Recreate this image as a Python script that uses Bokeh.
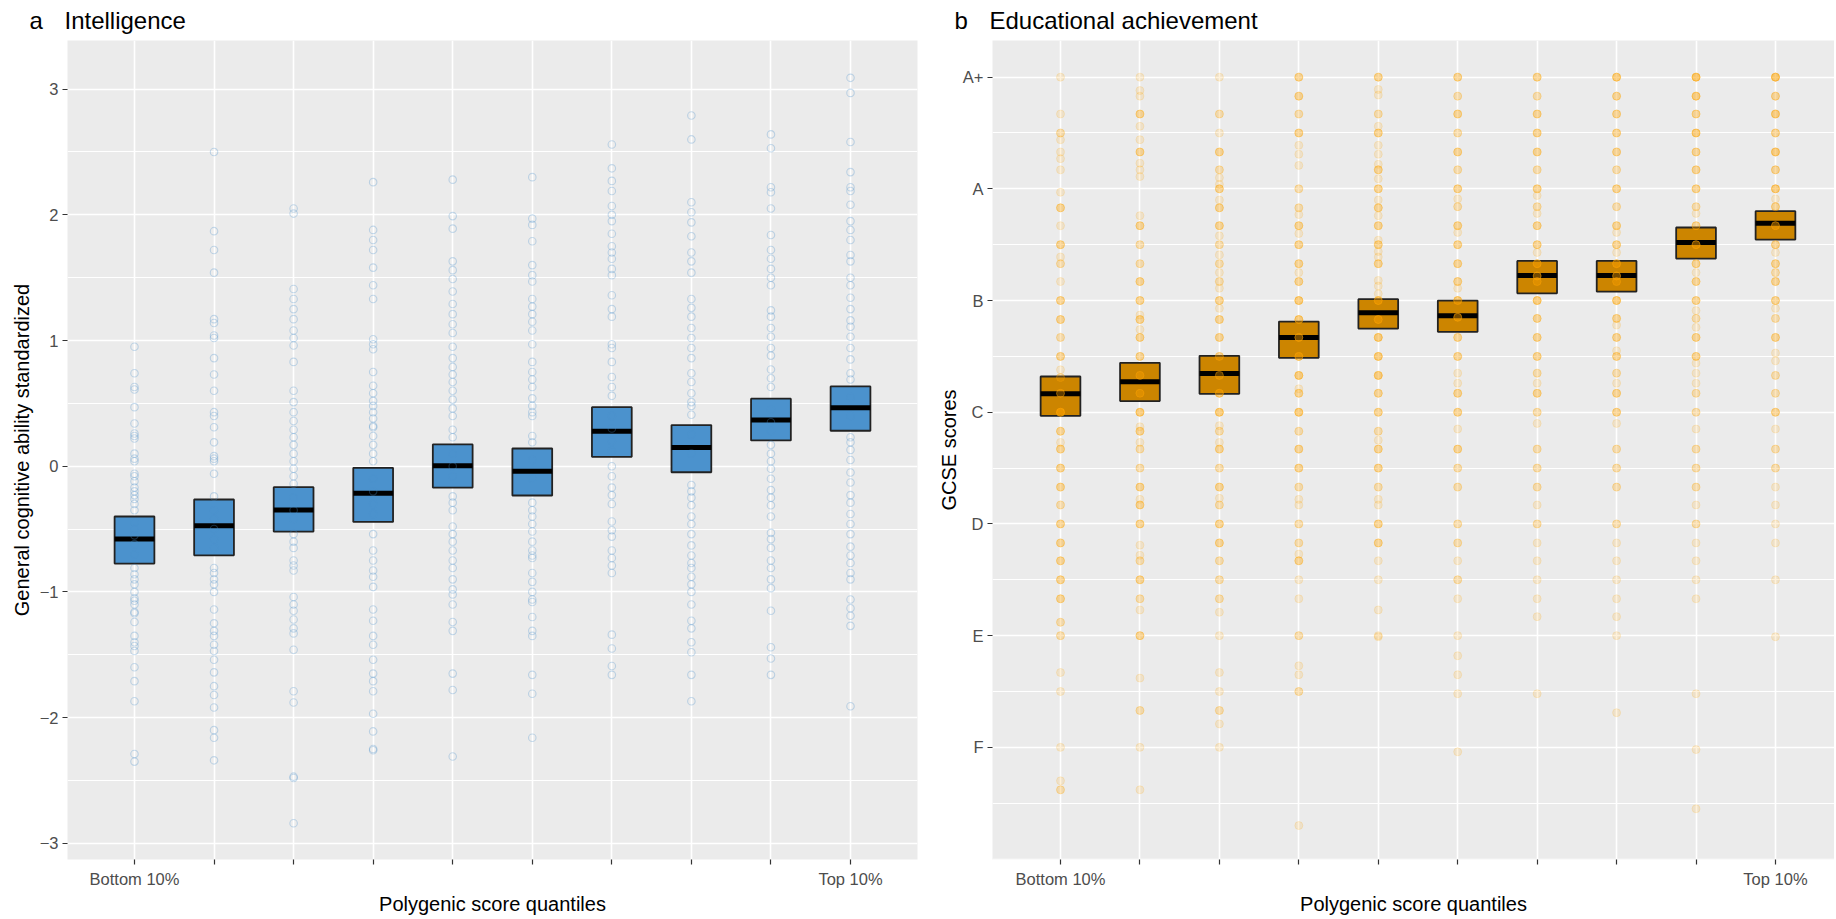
import numpy as np
from bokeh.plotting import figure
from bokeh.models import FixedTicker, Range1d, Grid
from bokeh.layouts import row
from bokeh.embed import file_html
from bokeh.resources import INLINE

# ---------------- data ----------------
quantiles = [1, 2, 3, 4, 5, 6, 7, 8, 9, 10]
x_tick_labels = {1: "Bottom 10%", 10: "Top 10%"}

iq_ticks = [-3, -2, -1, 0, 1, 2, 3]
gcse_ticks = [1, 2, 3, 4, 5, 6, 7]
gcse_tick_labels = ["F", "E", "D", "C", "B", "A", "A+"]

# Intelligence: crossbar (lower / middle / upper) per quantile
iq_lower = [-0.775, -0.709, -0.52, -0.443, -0.17, -0.233, 0.075, -0.048, 0.205, 0.282]
iq_mid = [-0.58, -0.473, -0.348, -0.215, 0.003, -0.04, 0.279, 0.149, 0.367, 0.465]
iq_upper = [-0.40, -0.265, -0.167, -0.013, 0.173, 0.141, 0.47, 0.327, 0.537, 0.635]

# Educational achievement: crossbar per quantile (F=1 ... A+=7)
gcse_lower = [3.968, 4.10, 4.165, 4.487, 4.749, 4.72, 5.065, 5.08, 5.376, 5.546]
gcse_mid = [4.165, 4.272, 4.346, 4.669, 4.89, 4.863, 5.224, 5.224, 5.519, 5.692]
gcse_upper = [4.32, 4.442, 4.505, 4.812, 5.012, 5.0, 5.355, 5.355, 5.654, 5.80]

# Intelligence: individual points per quantile
iq_q1 = [0.95, 0.74, 0.63, 0.61, 0.47, 0.34, 0.26, 0.24, 0.22, 0.10, 0.06, 0.04, -0.06, -0.08, -0.12, -0.17,
         -0.20, -0.23, -0.26, -0.30, -0.35, -0.45, -0.50, -0.55, -0.62, -0.70, -0.81, -0.86, -0.90, -0.94,
         -1.00, -1.05, -1.07, -1.10, -1.16, -1.17, -1.24, -1.35, -1.40, -1.43, -1.47, -1.60, -1.71, -1.87,
         -2.29, -2.35]
iq_q2 = [2.50, 1.87, 1.72, 1.54, 1.17, 1.14, 1.04, 1.02, 0.86, 0.73, 0.60, 0.43, 0.40, 0.31, 0.19, 0.08,
         0.06, 0.04, -0.06, -0.24, -0.35, -0.42, -0.50, -0.58, -0.65, -0.81, -0.85, -0.90, -0.94, -1.00,
         -1.14, -1.25, -1.31, -1.35, -1.42, -1.47, -1.54, -1.64, -1.75, -1.82, -1.92, -2.10, -2.16, -2.34]
iq_q3 = [2.05, 2.01, 1.41, 1.33, 1.25, 1.17, 1.08, 1.02, 0.96, 0.83, 0.60, 0.51, 0.43, 0.36, 0.29, 0.23,
         0.17, 0.10, 0.04, -0.02, -0.08, -0.14, -0.25, -0.35, -0.42, -0.54, -0.60, -0.65, -0.75, -0.79,
         -0.83, -1.04, -1.10, -1.15, -1.22, -1.29, -1.33, -1.46, -1.79, -1.88, -2.47, -2.48, -2.84]
iq_q4 = [2.26, 1.88, 1.80, 1.72, 1.58, 1.44, 1.33, 1.01, 0.97, 0.93, 0.75, 0.64, 0.58, 0.52, 0.48, 0.43,
         0.38, 0.32, 0.31, 0.24, 0.17, 0.10, 0.04, -0.10, -0.20, -0.30, -0.38, -0.54, -0.67, -0.75, -0.83,
         -0.88, -0.96, -1.14, -1.23, -1.35, -1.42, -1.54, -1.65, -1.71, -1.79, -1.97, -2.11, -2.25, -2.26]
iq_q5 = [2.28, 1.99, 1.89, 1.63, 1.56, 1.49, 1.39, 1.29, 1.21, 1.13, 1.06, 0.95, 0.86, 0.79, 0.73, 0.67,
         0.60, 0.53, 0.46, 0.40, 0.29, 0.23, 0.10, 0.0, -0.08, -0.24, -0.29, -0.35, -0.48, -0.54, -0.60,
         -0.67, -0.75, -0.81, -0.90, -0.98, -1.02, -1.10, -1.24, -1.31, -1.65, -1.78, -2.31]
iq_q6 = [2.30, 1.97, 1.92, 1.79, 1.60, 1.52, 1.47, 1.33, 1.27, 1.21, 1.15, 1.08, 0.97, 0.83, 0.75, 0.69,
         0.63, 0.54, 0.48, 0.43, 0.40, 0.24, 0.19, 0.05, -0.10, -0.29, -0.35, -0.40, -0.46, -0.52, -0.60,
         -0.67, -0.71, -0.73, -0.85, -0.92, -1.00, -1.06, -1.08, -1.20, -1.31, -1.35, -1.66, -1.81, -2.16]
iq_q7 = [2.56, 2.37, 2.27, 2.19, 2.07, 2.00, 1.95, 1.85, 1.75, 1.70, 1.65, 1.57, 1.52, 1.36, 1.25, 1.19,
         0.97, 0.94, 0.83, 0.71, 0.63, 0.56, 0.40, 0.30, 0.20, 0.12, 0.0, -0.08, -0.17, -0.23, -0.30,
         -0.44, -0.51, -0.56, -0.67, -0.73, -0.79, -0.85, -1.34, -1.45, -1.59, -1.66]
iq_q8 = [2.79, 2.60, 2.10, 2.02, 1.94, 1.83, 1.70, 1.63, 1.54, 1.33, 1.26, 1.19, 1.10, 1.02, 0.94, 0.86,
         0.74, 0.67, 0.58, 0.51, 0.48, 0.41, 0.25, 0.10, -0.15, -0.20, -0.25, -0.31, -0.40, -0.46, -0.54,
         -0.63, -0.71, -0.77, -0.81, -0.88, -0.94, -1.00, -1.10, -1.23, -1.29, -1.40, -1.48, -1.66, -1.87]
iq_q9 = [2.64, 2.53, 2.22, 2.18, 2.05, 1.84, 1.72, 1.65, 1.57, 1.50, 1.44, 1.24, 1.19, 1.10, 1.03, 0.94,
         0.88, 0.77, 0.70, 0.63, 0.45, 0.35, 0.28, 0.17, 0.10, 0.04, -0.02, -0.10, -0.19, -0.25, -0.31,
         -0.40, -0.53, -0.58, -0.65, -0.75, -0.81, -0.90, -0.97, -1.15, -1.44, -1.53, -1.66]
iq_q10 = [3.09, 2.97, 2.58, 2.34, 2.22, 2.19, 2.08, 1.95, 1.88, 1.80, 1.68, 1.63, 1.50, 1.44, 1.34, 1.25,
          1.16, 1.11, 1.03, 0.94, 0.85, 0.74, 0.69, 0.55, 0.40, 0.23, 0.19, 0.13, 0.05, -0.05, -0.13,
          -0.23, -0.29, -0.38, -0.46, -0.54, -0.64, -0.71, -0.77, -0.85, -0.90, -1.06, -1.13, -1.19,
          -1.27, -1.91]
iq_points = [iq_q1, iq_q2, iq_q3, iq_q4, iq_q5, iq_q6, iq_q7, iq_q8, iq_q9, iq_q10]

# Educational achievement: score levels per quantile and number of pupils at that level
gcse_q1_levels = [7.0, 6.67, 6.5, 6.44, 6.33, 6.27, 6.17, 5.97, 5.83, 5.67, 5.5, 5.39, 5.33, 5.17, 5.0, 4.83,
                  4.67, 4.5, 4.38, 4.31, 4.17, 4.0, 3.83, 3.73, 3.67, 3.5, 3.33, 3.17, 3.0, 2.83, 2.67, 2.5,
                  2.33, 2.12, 2.0, 1.67, 1.5, 1.0, 0.7, 0.62]
gcse_q1_counts = [1, 1, 2, 1, 1, 1, 1, 1, 3, 1, 3, 1, 2, 1, 3, 3, 2, 3, 1, 2, 3, 6, 3, 1, 3, 3, 3, 2, 3, 3,
                  3, 3, 3, 2, 2, 1, 1, 1, 1, 2]
gcse_q2_levels = [7.0, 6.88, 6.83, 6.67, 6.56, 6.44, 6.33, 6.23, 6.17, 6.11, 5.76, 5.67, 5.5, 5.33, 5.17,
                  5.0, 4.87, 4.83, 4.74, 4.67, 4.5, 4.33, 4.17, 4.0, 3.87, 3.83, 3.73, 3.67, 3.5, 3.33, 3.22,
                  3.17, 3.0, 2.81, 2.72, 2.67, 2.5, 2.33, 2.23, 2.0, 1.62, 1.33, 1.0, 0.62]
gcse_q2_counts = [1, 1, 1, 3, 1, 1, 3, 1, 1, 1, 1, 3, 2, 2, 3, 3, 1, 3, 1, 3, 3, 3, 3, 4, 1, 3, 1, 2, 2, 3,
                  1, 3, 3, 1, 1, 2, 3, 2, 1, 3, 1, 2, 1, 1]
gcse_q3_levels = [7.0, 6.67, 6.5, 6.33, 6.17, 6.1, 6.04, 6.0, 5.9, 5.83, 5.67, 5.58, 5.5, 5.41, 5.33, 5.25,
                  5.17, 5.11, 5.0, 4.93, 4.83, 4.67, 4.5, 4.33, 4.17, 4.0, 3.88, 3.83, 3.73, 3.67, 3.5, 3.33,
                  3.23, 3.17, 3.0, 2.83, 2.67, 2.5, 2.33, 2.21, 2.0, 1.67, 1.5, 1.33, 1.21, 1.0]
gcse_q3_counts = [1, 2, 1, 3, 2, 1, 1, 3, 1, 3, 3, 1, 2, 1, 2, 1, 2, 1, 3, 1, 3, 3, 3, 3, 4, 4, 1, 2, 1, 3,
                  2, 3, 1, 2, 3, 3, 2, 2, 2, 1, 1, 1, 1, 2, 1, 1]
gcse_q4_levels = [7.0, 6.83, 6.67, 6.5, 6.39, 6.31, 6.21, 6.0, 5.83, 5.77, 5.67, 5.6, 5.5, 5.33, 5.25, 5.17,
                  5.0, 4.83, 4.67, 4.5, 4.33, 4.21, 4.17, 4.0, 3.83, 3.67, 3.5, 3.33, 3.22, 3.17, 3.0, 2.83,
                  2.73, 2.67, 2.5, 2.33, 2.0, 1.73, 1.65, 1.5, 0.3]
gcse_q4_counts = [3, 3, 2, 3, 1, 1, 1, 2, 2, 1, 3, 1, 3, 3, 1, 3, 4, 4, 4, 4, 4, 1, 3, 4, 2, 3, 3, 2, 1, 1,
                  2, 2, 1, 3, 1, 1, 2, 1, 1, 2, 1]
gcse_q5_levels = [7.0, 6.89, 6.84, 6.67, 6.56, 6.5, 6.39, 6.31, 6.22, 6.17, 6.09, 6.0, 5.9, 5.83, 5.76, 5.67,
                  5.54, 5.5, 5.44, 5.39, 5.33, 5.18, 5.13, 5.06, 5.0, 4.83, 4.67, 4.5, 4.33, 4.17, 4.0, 3.83,
                  3.75, 3.67, 3.5, 3.33, 3.22, 3.17, 3.0, 2.83, 2.67, 2.5, 2.23, 2.0, 1.99]
gcse_q5_counts = [3, 1, 1, 2, 1, 3, 1, 1, 1, 3, 1, 3, 1, 3, 1, 3, 1, 3, 1, 1, 3, 1, 1, 1, 4, 4, 4, 4, 4, 3,
                  3, 2, 1, 3, 3, 2, 1, 1, 3, 3, 1, 1, 1, 1, 1]
gcse_q6_levels = [7.0, 6.83, 6.67, 6.5, 6.33, 6.17, 6.0, 5.91, 5.84, 5.67, 5.61, 5.5, 5.33, 5.17, 5.11, 5.0,
                  4.85, 4.67, 4.5, 4.35, 4.26, 4.17, 4.0, 3.85, 3.67, 3.5, 3.33, 3.0, 2.83, 2.67, 2.5, 2.33,
                  2.0, 1.82, 1.65, 1.48, 0.96]
gcse_q6_counts = [3, 2, 3, 2, 3, 2, 3, 1, 2, 3, 1, 3, 3, 3, 1, 4, 4, 3, 3, 1, 1, 3, 3, 1, 3, 2, 2, 2, 2, 1,
                  2, 1, 1, 1, 1, 1, 1]
gcse_q7_levels = [7.0, 6.83, 6.67, 6.5, 6.33, 6.17, 6.0, 5.94, 5.84, 5.78, 5.67, 5.5, 5.43, 5.33, 5.22, 5.17,
                  5.0, 4.84, 4.67, 4.5, 4.35, 4.26, 4.17, 4.0, 3.9, 3.67, 3.5, 3.33, 3.17, 3.0, 2.83, 2.67,
                  2.5, 2.33, 2.17, 1.48]
gcse_q7_counts = [3, 2, 3, 3, 3, 2, 3, 1, 2, 1, 3, 3, 1, 4, 4, 3, 4, 3, 3, 3, 2, 1, 3, 2, 1, 2, 2, 2, 1, 2,
                  1, 1, 1, 1, 1, 1]
gcse_q8_levels = [7.0, 6.83, 6.67, 6.5, 6.33, 6.17, 6.0, 5.84, 5.67, 5.61, 5.5, 5.43, 5.33, 5.22, 5.17, 5.0,
                  4.84, 4.78, 4.67, 4.55, 4.5, 4.35, 4.26, 4.17, 4.0, 3.9, 3.67, 3.5, 3.33, 3.0, 2.83, 2.67,
                  2.5, 2.33, 2.17, 2.0, 1.31]
gcse_q8_counts = [4, 3, 3, 3, 3, 2, 3, 2, 3, 1, 3, 1, 4, 4, 3, 4, 3, 1, 3, 1, 3, 2, 1, 3, 3, 1, 2, 2, 2, 2,
                  1, 1, 1, 1, 1, 1, 1]
gcse_q9_levels = [7.0, 6.83, 6.67, 6.5, 6.33, 6.17, 6.0, 5.84, 5.78, 5.67, 5.5, 5.33, 5.25, 5.17, 5.0, 4.91,
                  4.84, 4.76, 4.67, 4.5, 4.44, 4.35, 4.26, 4.17, 4.0, 3.85, 3.67, 3.5, 3.33, 3.17, 3.0, 2.83,
                  2.67, 2.5, 2.33, 1.48, 0.98, 0.45]
gcse_q9_counts = [5, 4, 3, 4, 3, 3, 3, 2, 1, 3, 4, 3, 1, 3, 3, 1, 2, 1, 3, 3, 1, 1, 1, 2, 2, 1, 2, 2, 2, 1,
                  2, 1, 1, 1, 1, 1, 1, 1]
gcse_q10_levels = [7.0, 6.83, 6.67, 6.5, 6.33, 6.17, 6.0, 5.91, 5.84, 5.67, 5.5, 5.43, 5.33, 5.25, 5.17, 5.0,
                   4.93, 4.84, 4.67, 4.53, 4.46, 4.33, 4.17, 4.0, 3.85, 3.67, 3.5, 3.33, 3.17, 3.0, 2.83, 2.5,
                   1.99]
gcse_q10_counts = [5, 3, 4, 3, 4, 3, 4, 1, 3, 4, 3, 1, 3, 2, 3, 3, 1, 2, 3, 1, 1, 2, 2, 3, 1, 2, 2, 1, 1, 1,
                   1, 1, 1]
gcse_levels = [gcse_q1_levels, gcse_q2_levels, gcse_q3_levels, gcse_q4_levels, gcse_q5_levels,
               gcse_q6_levels, gcse_q7_levels, gcse_q8_levels, gcse_q9_levels, gcse_q10_levels]
gcse_counts = [gcse_q1_counts, gcse_q2_counts, gcse_q3_counts, gcse_q4_counts, gcse_q5_counts,
               gcse_q6_counts, gcse_q7_counts, gcse_q8_counts, gcse_q9_counts, gcse_q10_counts]

# ---------------- styling ----------------
FONT = "Liberation Sans"
PANEL_BG = "#EBEBEB"
BLUE = "#4B92CD"
ORANGE_BOX = "#CC8500"
ORANGE_PT = "#FFA500"
TICK_COL = "#4D4D4D"
BOX_W = 0.5
FRAME_H = 819


def style(p, yticks, yminor, ylabels=None):
    p.background_fill_color = PANEL_BG
    p.border_fill_color = "white"
    p.outline_line_color = None
    p.title.text_font = FONT
    p.title.text_font_size = "24px"
    p.title.text_font_style = "normal"
    p.title.text_color = "black"
    p.title.align = "left"
    p.title.vertical_align = "top"
    p.title.standoff = 10
    p.title.offset = -38
    # x axis
    p.xaxis.ticker = FixedTicker(ticks=quantiles)
    p.xaxis.major_label_overrides = {q: x_tick_labels.get(q, "") for q in quantiles}
    # y axis
    p.yaxis.ticker = FixedTicker(ticks=yticks, minor_ticks=yminor)
    if ylabels is not None:
        p.yaxis.major_label_overrides = {t: l for t, l in zip(yticks, ylabels)}
    for ax in (p.xaxis[0], p.yaxis[0]):
        ax.axis_line_color = None
        ax.major_tick_line_color = "#333333"
        ax.major_tick_line_width = 1.2
        ax.major_tick_out = 5
        ax.major_tick_in = 0
        ax.minor_tick_line_color = None
        ax.major_label_text_font = FONT
        ax.major_label_text_font_size = "16.5px"
        ax.major_label_text_color = TICK_COL
        ax.axis_label_text_font = FONT
        ax.axis_label_text_font_size = "20px"
        ax.axis_label_text_font_style = "normal"
        ax.axis_label_text_color = "black"
        ax.major_label_standoff = 4
    p.xaxis.major_label_standoff = 5
    p.xaxis.axis_label_standoff = 2
    p.xgrid.grid_line_color = "white"
    p.xgrid.grid_line_width = 1.6
    p.ygrid.grid_line_color = "white"
    p.ygrid.grid_line_width = 1.6
    p.ygrid.minor_grid_line_color = "white"
    p.ygrid.minor_grid_line_width = 1.0


# ---------------- panel a ----------------
p1 = figure(frame_width=850, frame_height=FRAME_H, output_backend="svg", toolbar_location=None,
            x_range=Range1d(0.158, 10.842), y_range=Range1d(-3.129, 3.387),
            title="a\u2002\u2009\u2009Intelligence",
            x_axis_label="Polygenic score quantiles",
            y_axis_label="General cognitive ability standardized",
            min_border_left=67, min_border_right=13, min_border_top=40, min_border_bottom=0)
style(p1, iq_ticks, [-2.5, -1.5, -0.5, 0.5, 1.5, 2.5])
p1.yaxis.axis_label_standoff = 4

lefts = [q - BOX_W / 2 for q in quantiles]
rights = [q + BOX_W / 2 for q in quantiles]
p1.quad(left=lefts, right=rights, bottom=iq_lower, top=iq_upper,
        fill_color=BLUE, line_color="#222222", line_width=1.8)
p1.segment(x0=lefts, x1=rights, y0=iq_mid, y1=iq_mid, line_color="black", line_width=5)
xs, ys = [], []
for q, vals in zip(quantiles, iq_points):
    xs += [q] * len(vals)
    ys += vals
p1.scatter(xs, ys, size=7.5, marker="circle", fill_color=None,
           line_color=BLUE, line_alpha=0.3, line_width=1.1)

# ---------------- panel b ----------------
p2 = figure(frame_width=842, frame_height=FRAME_H, output_backend="svg", toolbar_location=None,
            x_range=Range1d(0.144, 10.743), y_range=Range1d(-0.004, 7.328),
            title="b\u2002\u2009\u2009Educational achievement",
            x_axis_label="Polygenic score quantiles",
            y_axis_label="GCSE scores",
            min_border_left=62, min_border_right=0, min_border_top=40, min_border_bottom=0)
style(p2, gcse_ticks, [0.5, 1.5, 2.5, 3.5, 4.5, 5.5, 6.5], gcse_tick_labels)
p2.yaxis.axis_label_standoff = 0
p2.add_layout(Grid(dimension=1, ticker=FixedTicker(ticks=[0]), grid_line_color="white",
                   grid_line_width=1.6))

p2.quad(left=lefts, right=rights, bottom=gcse_lower, top=gcse_upper,
        fill_color=ORANGE_BOX, line_color="#222222", line_width=1.8)
p2.segment(x0=lefts, x1=rights, y0=gcse_mid, y1=gcse_mid, line_color="black", line_width=5)
xs2, ys2 = [], []
for q, lv, ct in zip(quantiles, gcse_levels, gcse_counts):
    rep = np.repeat(lv, ct).tolist()
    xs2 += [q] * len(rep)
    ys2 += rep
p2.scatter(xs2, ys2, size=8, marker="circle", fill_color=ORANGE_PT, fill_alpha=0.14,
           line_color=ORANGE_PT, line_alpha=0.16, line_width=1)

layout = row(p1, p2)
open("out.html", "w").write(file_html(layout, INLINE))
